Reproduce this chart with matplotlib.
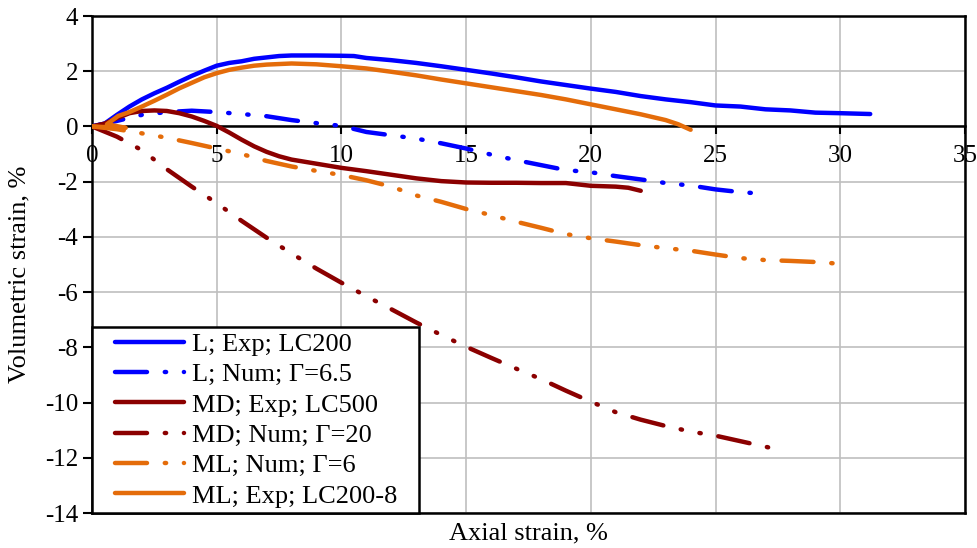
import matplotlib
matplotlib.use("Agg")
import matplotlib.pyplot as plt
from matplotlib.legend_handler import HandlerLine2D

plt.rcParams["font.family"] = ["Liberation Serif", "DejaVu Serif"]
plt.rcParams["axes.unicode_minus"] = False

# ---- data: axial strain (%) vs volumetric strain (%) ----
l_exp_x = [0, 0.5, 1, 1.5, 2, 2.5, 3, 3.5, 4, 4.5, 5, 5.5, 6, 6.5, 7, 7.5, 8, 9, 10,
           10.5, 11, 12, 13, 14, 15, 16, 17, 18, 19, 20, 21, 22, 23, 24, 25, 26, 27,
           28, 29, 30, 31.2]
l_exp_y = [0, 0.1, 0.42, 0.72, 0.98, 1.2, 1.4, 1.62, 1.83, 2.02, 2.2, 2.3, 2.36, 2.45,
           2.5, 2.55, 2.57, 2.57, 2.56, 2.55, 2.48, 2.4, 2.3, 2.18, 2.05, 1.92, 1.78,
           1.63, 1.5, 1.37, 1.25, 1.1, 0.98, 0.88, 0.76, 0.72, 0.62, 0.58, 0.5, 0.48, 0.45]

l_num_x = [0, 1, 2, 3, 4, 5, 6, 7, 8, 9, 10, 11, 12, 13, 14, 15, 16, 17, 18, 19, 20,
           21, 22, 23, 24, 25, 26, 26.8]
l_num_y = [0, 0.2, 0.42, 0.52, 0.57, 0.52, 0.45, 0.37, 0.23, 0.12, 0.02, -0.2, -0.32,
           -0.44, -0.61, -0.8, -1.02, -1.22, -1.4, -1.58, -1.66, -1.8, -1.92, -2.05,
           -2.14, -2.28, -2.38, -2.43]

md_exp_x = [0, 0.5, 1, 1.5, 2, 2.5, 3, 3.5, 4, 4.5, 5, 5.5, 6, 6.5, 7, 7.5, 8, 9, 10,
            11, 12, 13, 14, 15, 16, 17, 18, 19, 20, 21, 21.5, 22]
md_exp_y = [0, 0.1, 0.3, 0.48, 0.56, 0.58, 0.56, 0.48, 0.36, 0.2, 0.02, -0.22, -0.48,
            -0.72, -0.92, -1.08, -1.2, -1.35, -1.5, -1.62, -1.75, -1.88, -1.98, -2.03,
            -2.04, -2.04, -2.05, -2.05, -2.15, -2.18, -2.22, -2.33]

md_num_x = [0, 1, 2, 3, 4, 5, 6, 7, 8, 9, 10, 11, 12, 13, 14, 15, 16, 17, 18, 19, 20,
            21, 22, 23, 24, 25, 26, 27.3]
md_num_y = [0, -0.37, -0.86, -1.55, -2.18, -2.78, -3.42, -4.03, -4.6, -5.15, -5.66,
            -6.15, -6.62, -7.1, -7.55, -7.98, -8.38, -8.77, -9.15, -9.57, -9.97, -10.35,
            -10.62, -10.85, -11.05, -11.2, -11.4, -11.66]

ml_num_x = [0, 1, 2, 3, 4, 5, 6, 7, 8, 9, 10, 11, 12, 13, 14, 15, 16, 17, 18, 19, 20,
            21, 22, 23, 24, 25, 26, 27, 28, 29, 30.4]
ml_num_y = [0, -0.1, -0.25, -0.41, -0.6, -0.8, -1.0, -1.25, -1.45, -1.61, -1.76, -1.95,
            -2.18, -2.5, -2.73, -2.99, -3.21, -3.45, -3.67, -3.9, -4.05, -4.17, -4.3,
            -4.41, -4.5, -4.64, -4.77, -4.84, -4.87, -4.91, -5.0]

ml_exp_x = [0, 0.7, 1.35, 0.6, 1.05, 1.5, 2, 2.5, 3, 3.5, 4, 4.5, 5, 5.5, 6, 6.5, 7, 8,
            9, 10, 11, 12, 13, 14, 15, 16, 17, 18, 19, 20, 21, 22, 23, 23.5, 24]
ml_exp_y = [0, -0.03, -0.05, 0.08, 0.38, 0.52, 0.72, 0.93, 1.15, 1.38, 1.58, 1.78, 1.93,
            2.05, 2.13, 2.2, 2.24, 2.28, 2.25, 2.18, 2.1, 1.98, 1.85, 1.7, 1.56, 1.42,
            1.28, 1.14, 0.98, 0.8, 0.62, 0.44, 0.23, 0.08, -0.12]

labels = ["L; Exp; LC200", "L; Num; \u0393=6.5", "MD; Exp; LC500",
          "MD; Num; \u0393=20", "ML; Num; \u0393=6", "ML; Exp; LC200-8"]
x_ticks = [0, 5, 10, 15, 20, 25, 30, 35]
y_ticks = [4, 2, 0, -2, -4, -6, -8, -10, -12, -14]

BLUE = "#0000FF"
DARK_RED = "#8B0000"
ORANGE = "#E46C0A"
LW = 3.2
DASH_DOT_DOT = (0, (7.2, 4.0, 0.3, 4.0, 0.3, 4.0))

fig = plt.figure(figsize=(9.77, 5.48), dpi=100)
ax = fig.add_axes([92 / 977, 35 / 548, 873 / 977, 497 / 548])

series = [
    (l_exp_x, l_exp_y, BLUE, "-"),
    (l_num_x, l_num_y, BLUE, DASH_DOT_DOT),
    (md_exp_x, md_exp_y, DARK_RED, "-"),
    (md_num_x, md_num_y, DARK_RED, DASH_DOT_DOT),
    (ml_num_x, ml_num_y, ORANGE, DASH_DOT_DOT),
    (ml_exp_x, ml_exp_y, ORANGE, "-"),
]
handles = []
for (xs, ys, c, ls), lab in zip(series, labels):
    h, = ax.plot(xs, ys, color=c, lw=LW, linestyle=ls, label=lab,
                 solid_capstyle="round", dash_capstyle="round", zorder=3)
    handles.append(h)

ax.set_xlim(0, 35)
ax.set_ylim(-14, 4)
ax.set_xticks(x_ticks)
ax.set_yticks(y_ticks)
ax.set_xticklabels([str(v) for v in x_ticks])
ax.set_yticklabels([str(v) for v in y_ticks])

ax.grid(True, color="#BFBFBF", lw=1.2)
ax.set_axisbelow(True)

# x axis runs along zero; the plot area keeps a full black frame
ax.spines["bottom"].set_position(("data", 0))
for s in ["bottom", "top", "left", "right"]:
    ax.spines[s].set_linewidth(1.8)
    ax.spines[s].set_color("black")
ax.spines["bottom"].set_zorder(2.5)
ax.plot([0, 1], [0, 0], transform=ax.transAxes, color="black", lw=1.8,
        clip_on=False, zorder=2.5)

ax.tick_params(axis="x", direction="out", length=6, width=1.5, pad=7,
               labelsize=18, colors="black")
ax.tick_params(axis="y", direction="out", length=6.5, width=1.5, pad=3.5,
               labelsize=18, colors="black")

ax.set_xlabel("Axial strain, %", fontsize=19, va="center")
ax.xaxis.set_label_coords(0.5, -0.042)
ax.set_ylabel("Volumetric strain, %", fontsize=19, va="center")
ax.yaxis.set_label_coords(-0.083, 0.48)


class IndentedLineHandler(HandlerLine2D):
    """Legend line sample with some blank space before it."""

    def __init__(self, indent, **kw):
        super().__init__(**kw)
        self.indent = indent

    def get_xdata(self, legend, xdescent, ydescent, width, height, fontsize):
        xd, xm = super().get_xdata(legend, xdescent, ydescent, width, height, fontsize)
        xd = [xd[0] + self.indent, xd[-1]]
        return xd, xm


leg_w = (419 - 92) / 873
leg = ax.legend(handles=handles, loc="lower left",
                bbox_to_anchor=(0, 0, leg_w, 0.37), mode="expand",
                borderaxespad=0, fontsize=19, frameon=True, fancybox=False,
                edgecolor="black", framealpha=1, borderpad=0.2,
                handlelength=3.3, handletextpad=0.3, labelspacing=0.26,
                handler_map={h: IndentedLineHandler(13) for h in handles})
leg.get_frame().set_linewidth(1.8)
leg.set_zorder(5)

fig.savefig("out.png", dpi=100)
